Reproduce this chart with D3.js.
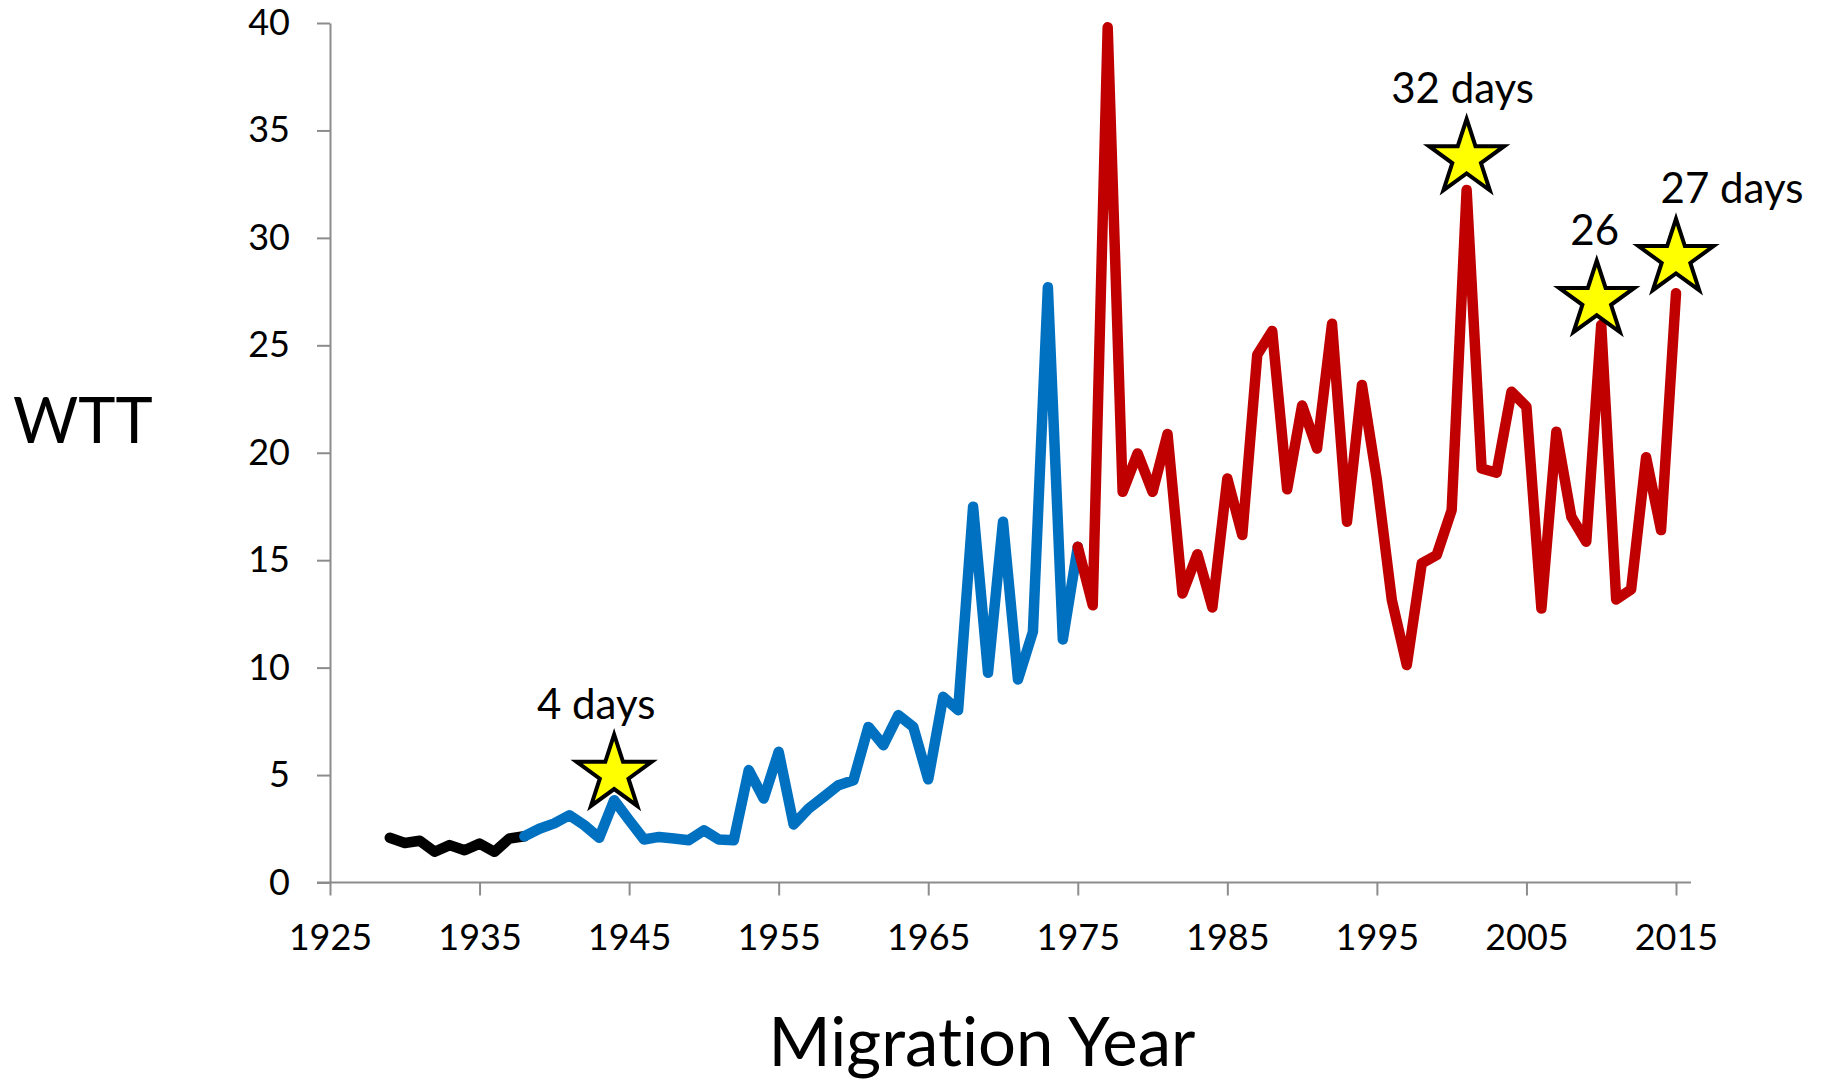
<!DOCTYPE html>
<html>
<head>
<meta charset="utf-8">
<script src="https://cdn.jsdelivr.net/npm/d3@7/dist/d3.min.js"></script>
<style>
  body { margin: 0; background: #fff; }
  svg text { font-family: Lato, "Open Sans", sans-serif; fill: #000; font-variant-ligatures: none; }
</style>
</head>
<body>
<div id="wrapper"></div>
<script>
// values (WTT per migration year)
const earlyYears = [1929, 1930, 1931, 1932, 1933, 1934, 1935, 1936, 1937, 1938]
const earlyWtt = [2.08, 1.84, 1.94, 1.43, 1.74, 1.50, 1.81, 1.43, 2.05, 2.15]

const midYears = [1938, 1939, 1940, 1941, 1942, 1943, 1944, 1945, 1946, 1947,
  1948, 1949, 1950, 1951, 1952, 1953, 1954, 1955, 1956, 1957,
  1958, 1959, 1960, 1961, 1962, 1963, 1964, 1965, 1966, 1967,
  1968, 1969, 1970, 1971, 1972, 1973, 1974, 1975]
const midWtt = [2.15, 2.50, 2.75, 3.13, 2.67, 2.08, 3.83, 2.90, 2.00, 2.12,
  2.05, 1.97, 2.43, 2.00, 1.97, 5.23, 3.91, 6.08, 2.70, 3.44,
  3.98, 4.53, 4.76, 7.24, 6.39, 7.79, 7.24, 4.80, 8.64, 8.02,
  17.49, 9.76, 16.79, 9.45, 11.67, 27.70, 11.31, 15.62]

const lateYears = [1975, 1976, 1977, 1978, 1979, 1980, 1981, 1982, 1983, 1984,
  1985, 1986, 1987, 1988, 1989, 1990, 1991, 1992, 1993, 1994,
  1995, 1996, 1997, 1998, 1999, 2000, 2001, 2002, 2003, 2004,
  2005, 2006, 2007, 2008, 2009, 2010, 2011, 2012, 2013, 2014, 2015]
const lateWtt = [15.62, 12.90, 39.80, 18.18, 19.97, 18.18, 20.87, 13.45, 15.28, 12.80,
  18.80, 16.17, 24.56, 25.67, 18.30, 22.20, 20.20, 26.00, 16.79, 23.15,
  18.73, 13.14, 10.12, 14.85, 15.24, 17.33, 32.23, 19.27, 19.07, 22.84,
  22.14, 12.75, 20.98, 17.02, 15.86, 25.95, 13.17, 13.64, 19.79, 16.40, 27.42]

// starred years and their labels
const starYears = [1944, 2001, 2009.7, 2015]
const starWtt = [5.05, 33.7, 27.1, 29.05]
const starLabels = ["4 days", "32 days", "26", "27 days"]

const xTicks = [1925, 1935, 1945, 1955, 1965, 1975, 1985, 1995, 2005, 2015]
const yTicks = [0, 5, 10, 15, 20, 25, 30, 35, 40]

function drawChart() {

  // 1. Access data
  const zip = (xs, ys) => xs.map((x, i) => ({ year: x, wtt: ys[i] }))
  const segments = [
    { data: zip(earlyYears, earlyWtt), color: "#000000" },
    { data: zip(midYears, midWtt), color: "#0070C0" },
    { data: zip(lateYears, lateWtt), color: "#C00000" },
  ]
  const stars = starYears.map((y, i) => ({ year: y, wtt: starWtt[i], label: starLabels[i] }))
  const labelDx = [-18, -4, -2, 56]

  const xAccessor = d => d.year
  const yAccessor = d => d.wtt

  // 2. Create chart dimensions
  let dimensions = {
    width: 1823,
    height: 1088,
    margin: {
      top: 23,
      right: 147,
      bottom: 205.5,
      left: 330,
    },
  }
  dimensions.boundedWidth = dimensions.width
    - dimensions.margin.left
    - dimensions.margin.right
  dimensions.boundedHeight = dimensions.height
    - dimensions.margin.top
    - dimensions.margin.bottom

  // 3. Draw canvas
  const wrapper = d3.select("#wrapper")
    .append("svg")
      .attr("width", dimensions.width)
      .attr("height", dimensions.height)

  wrapper.append("rect")
    .attr("width", dimensions.width)
    .attr("height", dimensions.height)
    .attr("fill", "#fff")

  const bounds = wrapper.append("g")
    .attr("transform", `translate(${dimensions.margin.left},${dimensions.margin.top})`)

  // 4. Create scales
  const xScale = d3.scaleLinear()
    .domain([1925, 2015])
    .range([0, dimensions.boundedWidth])

  const yScale = d3.scaleLinear()
    .domain([0, 40])
    .range([dimensions.boundedHeight, 0])

  // 5. Draw peripherals (under the lines)
  const axisColor = "#8c8c8c"
  const tickLen = 13

  const yAxisGenerator = d3.axisLeft(yScale)
    .tickValues(yTicks)
    .tickSize(tickLen)
    .tickSizeOuter(0)
    .tickPadding(27)

  const yAxis = bounds.append("g")
    .call(yAxisGenerator)
  yAxis.attr("font-family", null).attr("font-size", null)
  yAxis.selectAll("path, line").attr("stroke", axisColor).attr("stroke-width", 2)
  yAxis.selectAll("text").style("font-size", "36px")

  const xAxisGenerator = d3.axisBottom(xScale)
    .tickValues(xTicks)
    .tickSize(tickLen)
    .tickSizeOuter(0)
    .tickPadding(29)
    .tickFormat(d3.format("d"))

  const xAxis = bounds.append("g")
    .attr("transform", `translate(0,${dimensions.boundedHeight})`)
    .call(xAxisGenerator)
  xAxis.attr("font-family", null).attr("font-size", null)
  xAxis.select(".domain")
    .attr("d", `M${-tickLen},0H${xScale(2016)}`)
  xAxis.selectAll("path, line").attr("stroke", axisColor).attr("stroke-width", 2)
  xAxis.selectAll("text").style("font-size", "36px")

  // 6. Draw data
  const lineGenerator = d3.line()
    .x(d => xScale(xAccessor(d)))
    .y(d => yScale(yAccessor(d)))

  bounds.selectAll(".segment")
    .data(segments)
    .join("path")
      .attr("class", "segment")
      .attr("d", d => lineGenerator(d.data))
      .attr("fill", "none")
      .attr("stroke", d => d.color)
      .attr("stroke-width", 10.5)
      .attr("stroke-linejoin", "round")
      .attr("stroke-linecap", "round")

  // stars + labels
  const starSymbol = d3.symbol().type(d3.symbolStar).size(1750)

  bounds.selectAll(".star")
    .data(stars)
    .join("path")
      .attr("class", "star")
      .attr("d", starSymbol)
      .attr("transform", d => `translate(${xScale(xAccessor(d))},${yScale(yAccessor(d))})`)
      .attr("fill", "#FFFF00")
      .attr("stroke", "#000")
      .attr("stroke-width", 4)
      .attr("stroke-linejoin", "miter")

  bounds.selectAll(".star-label")
    .data(stars)
    .join("text")
      .attr("class", "star-label")
      .attr("x", (d, i) => xScale(xAccessor(d)) + labelDx[i])
      .attr("y", d => yScale(yAccessor(d)) - 55)
      .attr("text-anchor", "middle")
      .style("font-size", "42px")
      .text(d => d.label)

  // axis titles
  wrapper.append("text")
    .attr("x", 13)
    .attr("y", 443)
    .style("font-size", "63px")
    .text("WTT")

  wrapper.append("text")
    .attr("x", 982)
    .attr("y", 1066)
    .attr("text-anchor", "middle")
    .style("font-size", "67px")
    .text("Migration Year")
}
drawChart()
</script>
</body>
</html>
